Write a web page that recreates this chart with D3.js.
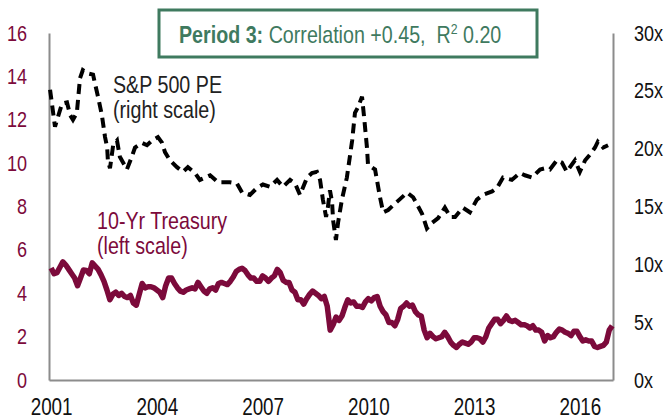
<!DOCTYPE html>
<html>
<head>
<meta charset="utf-8">
<script src="https://cdn.jsdelivr.net/npm/d3@7/dist/d3.min.js"></script>
<style>
  body { margin: 0; background: #fff; }
  svg text { font-family: "Liberation Sans", Arial, sans-serif; white-space: pre; }
</style>
</head>
<body>
<div id="chart"></div>
<script>
// 10-yr treasury, monthly Jan 2001 .. Dec 2016 (left scale, %)
const tsyStart = 2001;
const tsy = [
  5.16, 4.90, 4.95, 5.20, 5.45, 5.30, 5.10, 4.90, 4.70, 4.35, 4.70, 5.07,
  5.05, 4.90, 5.40, 5.25, 5.10, 4.85, 4.55, 4.15, 3.70, 3.95, 4.05, 3.90,
  4.00, 3.85, 3.80, 3.90, 3.55, 3.45, 3.95, 4.45, 4.25, 4.30, 4.30, 4.25,
  4.15, 4.05, 3.80, 4.35, 4.70, 4.70, 4.45, 4.25, 4.10, 4.05, 4.15, 4.20,
  4.25, 4.20, 4.50, 4.30, 4.10, 4.00, 4.20, 4.25, 4.15, 4.45, 4.50, 4.45,
  4.40, 4.55, 4.75, 5.00, 5.10, 5.15, 5.05, 4.85, 4.70, 4.70, 4.55, 4.55,
  4.80, 4.70, 4.55, 4.70, 4.80, 5.10, 4.95, 4.60, 4.50, 4.50, 4.15, 4.05,
  3.70, 3.70, 3.50, 3.75, 3.95, 4.10, 4.00, 3.90, 3.75, 3.85, 3.40, 2.30,
  2.55, 2.90, 2.75, 2.95, 3.35, 3.70, 3.55, 3.60, 3.40, 3.40, 3.35, 3.60,
  3.75, 3.65, 3.80, 3.85, 3.40, 3.15, 3.00, 2.65, 2.65, 2.50, 2.80, 3.30,
  3.40, 3.55, 3.40, 3.45, 3.15, 3.00, 2.95, 2.30, 1.95, 2.15, 2.00, 1.90,
  1.95, 2.00, 2.20, 2.00, 1.75, 1.60, 1.50, 1.65, 1.75, 1.70, 1.65, 1.75,
  1.95, 1.95, 1.90, 1.75, 2.00, 2.40, 2.60, 2.80, 2.80, 2.60, 2.75, 2.95,
  2.75, 2.70, 2.75, 2.65, 2.55, 2.55, 2.50, 2.40, 2.50, 2.30, 2.30, 2.20,
  1.80, 2.05, 1.95, 2.00, 2.20, 2.35, 2.30, 2.20, 2.15, 2.05, 2.25, 2.25,
  2.00, 1.80, 1.85, 1.80, 1.80, 1.55, 1.50, 1.55, 1.60, 1.75, 2.30, 2.50
];

// S&P 500 PE (right scale), read at these dates
const peDates = [
  2000.97, 2001.11, 2001.31, 2001.45, 2001.54, 2001.62, 2001.73, 2001.82, 2001.90, 2002.05,
  2002.19, 2002.24, 2002.33, 2002.44, 2002.53, 2002.59, 2002.61, 2002.67, 2002.76, 2002.87,
  2002.95, 2003.15, 2003.29, 2003.38, 2003.58, 2003.72, 2003.86, 2004.03, 2004.15, 2004.23,
  2004.37, 2004.57, 2004.74, 2004.88, 2005.08, 2005.22, 2005.51, 2005.73, 2006.07, 2006.27,
  2006.42, 2006.64, 2006.84, 2007.01, 2007.21, 2007.41, 2007.58, 2007.78, 2007.92, 2008.06,
  2008.26, 2008.40, 2008.54, 2008.63, 2008.71, 2008.80, 2008.85, 2008.91, 2008.97, 2009.00,
  2009.08, 2009.14, 2009.25, 2009.39, 2009.54, 2009.62, 2009.71, 2009.82, 2009.88, 2009.96,
  2009.99, 2010.19, 2010.33, 2010.42, 2010.56, 2010.81, 2011.10, 2011.27, 2011.52, 2011.66,
  2011.81, 2011.98, 2012.17, 2012.32, 2012.46, 2012.68, 2012.88, 2013.08, 2013.25, 2013.51,
  2013.65, 2013.82, 2014.07, 2014.30, 2014.44, 2014.64, 2014.87, 2015.01, 2015.15, 2015.35,
  2015.49, 2015.63, 2015.72, 2015.86, 2016.00, 2016.15, 2016.29, 2016.43, 2016.51, 2016.66,
  2016.80
];
const peValues = [
  25.1, 21.9, 23.9, 24.0, 22.9, 22.5, 23.1, 26.1, 26.8, 26.5,
  26.4, 25.7, 24.5, 22.9, 21.0, 20.1, 19.0, 18.3, 20.3, 20.7,
  19.3, 18.2, 19.3, 20.1, 20.5, 20.3, 20.7, 21.0, 20.5, 19.7,
  19.0, 18.4, 18.0, 18.4, 17.9, 17.3, 17.7, 17.1, 17.1, 17.0,
  16.2, 16.0, 16.6, 16.9, 16.7, 17.3, 16.7, 17.3, 17.0, 16.0,
  17.5, 17.9, 18.0, 17.3, 15.6, 14.1, 14.9, 16.4, 15.4, 13.8,
  12.1, 13.6, 15.6, 17.5, 20.7, 23.1, 23.6, 24.5, 22.7, 20.1,
  18.6, 18.2, 15.8, 14.5, 14.7, 15.4, 16.2, 15.8, 14.4, 13.1,
  13.6, 14.0, 14.9, 14.1, 14.1, 14.9, 14.5, 15.6, 16.0, 16.3,
  16.6, 17.5, 17.3, 17.9, 17.7, 17.5, 18.2, 18.3, 18.2, 19.0,
  18.8, 18.0, 18.4, 19.0, 18.0, 19.0, 19.5, 20.1, 20.6, 20.1,
  20.3
];

const yearTicks = [2001, 2004, 2007, 2010, 2013, 2016];
const leftTicks = [0, 2, 4, 6, 8, 10, 12, 14, 16];
const rightTicks = [0, 5, 10, 15, 20, 25, 30];

const W = 668, H = 419;
const maroon = "#7c0a3b", green = "#3f7a5f", axisGray = "#8c8c8c";
const squeeze = 0.82; // no narrow font installed, so squeeze Liberation Sans

const svg = d3.select("#chart").append("svg")
  .attr("width", W).attr("height", H);

const x = d3.scaleLinear().domain([2000.94, 2016.94]).range([49, 613]);
const yL = d3.scaleLinear().domain([0, 16]).range([380, 33]);
const yR = d3.scaleLinear().domain([0, 30]).range([380, 33]);

// axis frame (left, bottom, right) - no tick marks
svg.append("g").attr("transform", "translate(49,0)")
  .call(d3.axisLeft(yL).tickValues(leftTicks).tickSize(0))
  .call(g => g.select(".domain").attr("stroke", axisGray).attr("stroke-width", 2))
  .selectAll("text")
  .attr("x", 0)
  .attr("transform", `translate(-22,0) scale(${squeeze},1)`)
  .attr("fill", maroon).style("font-size", "22px");

svg.append("g").attr("transform", "translate(613,0)")
  .call(d3.axisRight(yR).tickValues(rightTicks).tickFormat(d => d + "x").tickSize(0))
  .call(g => g.select(".domain").attr("stroke", axisGray).attr("stroke-width", 2))
  .selectAll("text")
  .attr("x", 0)
  .attr("transform", `translate(21,0) scale(${squeeze},1)`)
  .attr("fill", "#111").style("font-size", "22px");

svg.append("g").attr("transform", "translate(0,380)")
  .call(d3.axisBottom(x).tickValues(yearTicks).tickFormat(d3.format("d")).tickSize(0).tickPadding(19))
  .call(g => g.select(".domain").attr("stroke", axisGray).attr("stroke-width", 2))
  .selectAll("text")
  .attr("transform", `scale(${squeeze},1)`)
  .attr("fill", "#111").style("font-size", "23px");

// treasury line
svg.append("path")
  .datum(tsy)
  .attr("fill", "none")
  .attr("stroke", maroon)
  .attr("stroke-width", 5.5)
  .attr("stroke-linejoin", "round")
  .attr("d", d3.line()
    .x((d, i) => x(tsyStart + i / 12))
    .y(d => yL(d)));

// PE line (dashed)
svg.append("path")
  .datum(peValues)
  .attr("fill", "none")
  .attr("stroke", "#000")
  .attr("stroke-width", 4)
  .attr("stroke-dasharray", "10,6")
  .attr("d", d3.line()
    .x((d, i) => x(peDates[i]))
    .y(d => yR(d)));

// squeezed text helper
function label(px, py, str, color, size) {
  return svg.append("text")
    .attr("transform", `translate(${px},${py}) scale(${squeeze},1)`)
    .attr("fill", color)
    .style("font-size", size + "px")
    .text(str);
}

label(113, 93, "S&P 500 PE", "#222", 24);
label(113, 118, "(right scale)", "#222", 24);
label(97, 229, "10-Yr Treasury", maroon, 24);
label(97, 254, "(left scale)", maroon, 24);

// correlation box
svg.append("rect")
  .attr("x", 159).attr("y", 10).attr("width", 378).attr("height", 47)
  .attr("fill", "#fff").attr("stroke", green).attr("stroke-width", 3);

const t = label(179, 43, null, green, 24);
t.append("tspan").attr("font-weight", "bold").text("Period 3:");
t.append("tspan").text(" Correlation +0.45,  R");
t.append("tspan").attr("dy", -9).style("font-size", "15px").text("2");
t.append("tspan").attr("dy", 9).text(" 0.20");
</script>
</body>
</html>
